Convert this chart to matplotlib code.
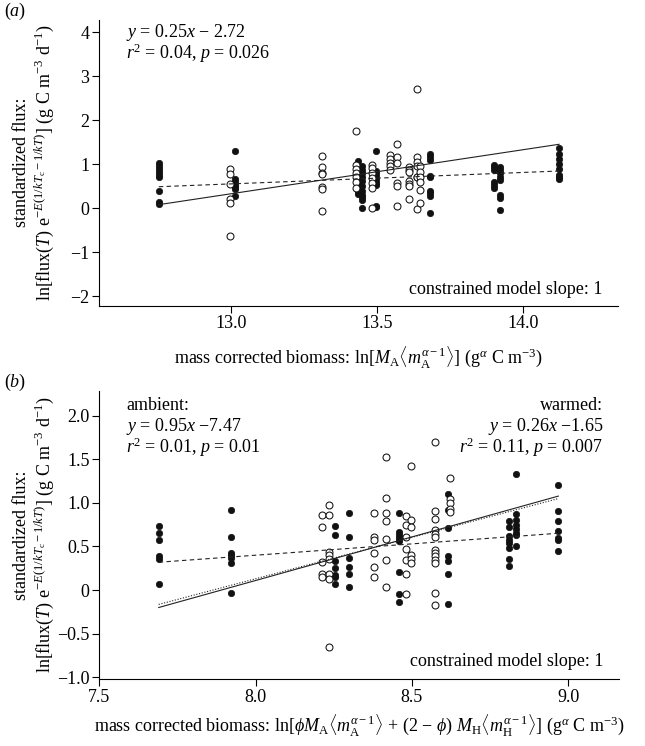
import matplotlib
matplotlib.use('Agg')
import matplotlib.pyplot as plt
import matplotlib.transforms as mtransforms
import numpy as np

plt.rcParams['font.family'] = ['Liberation Serif', 'DejaVu Serif']
plt.rcParams['mathtext.fontset'] = 'custom'
plt.rcParams['mathtext.rm'] = 'Liberation Serif'
plt.rcParams['mathtext.it'] = 'Liberation Serif:italic'
plt.rcParams['mathtext.bf'] = 'Liberation Serif:bold'
plt.rcParams['axes.unicode_minus'] = True

MINUS = '\u2212'

# ---------------- data: panel (a) ----------------
a_filled_x = [12.752, 13.012, 13.435, 13.450, 13.498, 13.680, 13.900, 13.921, 14.124]
a_filled_y = [
    [1.03, 0.95, 0.89, 0.83, 0.76, 0.70, 0.39, 0.14, 0.10],
    [1.31, 0.66, 0.60, 0.54, 0.48, 0.43, 0.28],
    [1.07, 0.95, 0.84, 0.76, 0.68, 0.60, 0.45, 0.38, 0.32],
    [0.95, 0.88, 0.80, 0.72, 0.62, 0.50, 0.40, 0.31, 0.25, 0.19, 0.00],
    [1.31, 0.85, 0.79, 0.72, 0.64, 0.57, 0.52, 0.05, 0.02],
    [1.24, 1.17, 1.10, 0.74, 0.71, 0.39, 0.34, 0.29, -0.11],
    [0.99, 0.94, 0.88, 0.59, 0.52, 0.46],
    [0.94, 0.87, 0.80, 0.72, 0.64, 0.31, 0.24, -0.04],
    [1.37, 1.24, 1.11, 1.00, 0.90, 0.75, 0.72, 0.66],
]
a_open_x = [12.997, 13.310, 13.428, 13.482, 13.543, 13.570, 13.609, 13.636, 13.647]
a_open_y = [
    [0.89, 0.78, 0.56, 0.20, 0.12, -0.64],
    [1.19, 0.93, 0.81, 0.77, 0.49, 0.43, -0.07],
    [1.75, 0.98, 0.90, 0.80, 0.70, 0.60, 0.46],
    [0.98, 0.91, 0.80, 0.68, 0.57, 0.45, 0.01],
    [1.21, 1.12, 1.03, 0.95, 0.88],
    [1.45, 1.16, 1.04, 0.58, 0.51, 0.05],
    [0.93, 0.88, 0.83, 0.61, 0.55, 0.51, 0.20],
    [2.72, 1.17, 1.05, 0.95, 0.72, 0.70, -0.02],
    [0.96, 0.83, 0.70, 0.60, 0.41, 0.11],
]
a_line_range = [12.752, 14.124]
a_solid = (1.0, -12.67)      # constrained slope 1
a_dashed = (0.26, -2.826)    # fitted
a_xticks = [13.0, 13.5, 14.0]
a_xticklabels = ['13.0', '13.5', '14.0']
a_yticks = [-2, -1, 0, 1, 2, 3, 4]
a_yticklabels = [MINUS + '2', MINUS + '1', '0', '1', '2', '3', '4']

# ---------------- data: panel (b) ----------------
b_filled_x = [7.690, 7.920, 8.255, 8.299, 8.460, 8.615, 8.810, 8.833, 8.967]
b_filled_y = [
    [0.74, 0.66, 0.58, 0.39, 0.36, 0.07],
    [0.92, 0.61, 0.43, 0.40, 0.37, 0.31, -0.03],
    [0.74, 0.63, 0.33, 0.25, 0.17, 0.15, 0.07],
    [0.88, 0.61, 0.37, 0.27, 0.18, 0.03],
    [0.88, 0.67, 0.63, 0.60, 0.56, 0.21, -0.05, -0.14],
    [1.10, 0.92, 0.71, 0.39, 0.33, 0.18, -0.16],
    [0.79, 0.72, 0.62, 0.58, 0.54, 0.48, 0.36, 0.28],
    [1.33, 0.87, 0.80, 0.75, 0.70, 0.66, 0.63, 0.50],
    [1.21, 0.91, 0.79, 0.68, 0.60, 0.57, 0.45],
]
b_open_x = [8.211, 8.235, 8.377, 8.418, 8.481, 8.496, 8.575, 8.622]
b_open_y = [
    [0.86, 0.72, 0.32, 0.18, 0.15],
    [0.98, 0.86, 0.44, 0.40, 0.36, 0.19, 0.13, -0.65],
    [0.88, 0.61, 0.57, 0.42, 0.26, 0.15],
    [1.53, 1.06, 0.88, 0.79, 0.59, 0.35, 0.03],
    [0.85, 0.75, 0.61, 0.47, 0.35, 0.18, -0.04],
    [1.42, 0.80, 0.72, 0.40, 0.36, 0.31],
    [1.70, 0.91, 0.81, 0.69, 0.64, 0.61, 0.46, 0.42, 0.39, 0.35, 0.31, -0.03, -0.17],
    [1.29, 1.04, 1.00, 0.93, 0.90],
]
b_line_range = [7.690, 8.968]
b_solid = (1.0, -7.89)       # constrained slope 1
b_dotted = (0.95, -7.47)     # ambient
b_dashed = (0.26, -1.68)     # warmed
b_xticks = [7.5, 8.0, 8.5, 9.0]
b_xticklabels = ['7.5', '8.0', '8.5', '9.0']
b_yticks = [-1.0, -0.5, 0, 0.5, 1.0, 1.5, 2.0]
b_yticklabels = [MINUS + '1.0', MINUS + '0.5', '0', '0.5', '1.0', '1.5', '2.0']

# ---------------- figure ----------------
W, H = 645, 746
fig = plt.figure(figsize=(W / 100, H / 100), dpi=100)
FS = 13
RIGHT = 618


def px_axes(l, t, r, b):
    return fig.add_axes([l / W, 1 - b / H, (r - l) / W, (b - t) / H])


def expand(xs, ys):
    X, Y = [], []
    for x, col in zip(xs, ys):
        X += [x] * len(col)
        Y += list(col)
    return X, Y


def style(ax):
    for s in ['top', 'right']:
        ax.spines[s].set_visible(False)
    for s in ['left', 'bottom']:
        ax.spines[s].set_linewidth(0.8)
    ax.tick_params(direction='out', length=5, width=0.8, labelsize=FS, pad=2)


def draw_points(ax, fx, fy, ox, oy):
    X, Y = expand(fx, fy)
    ax.plot(X, Y, 'o', ms=4.6, mfc='#111111', mec='#111111', mew=0.5, zorder=2, clip_on=False)
    X, Y = expand(ox, oy)
    ax.plot(X, Y, 'o', ms=5.0, mfc='white', mec='#111111', mew=0.75, zorder=2, clip_on=False)


def draw_line(ax, rng, coef, ls):
    xs = np.array(rng)
    ax.plot(xs, coef[0] * xs + coef[1], color='#222222', lw=0.8, ls=ls, zorder=3)


def ylabels(ax):
    tr = mtransforms.blended_transform_factory(fig.dpi_scale_trans, ax.transAxes)
    ax.text(22 / 100, 0.5, 'standardized flux:', transform=tr, rotation=90,
            ha='center', va='center', fontsize=FS)
    ax.text(44 / 100, 0.5,
            r'ln[flux($T$) e$^{-E(1/kT_{\rm c}-1/kT)}$] (g C m$^{-3}$ d$^{-1}$)',
            transform=tr, rotation=90, ha='center', va='center', fontsize=FS)


# ---- panel (a)
ax1 = px_axes(99, 19.5, RIGHT, 305.5)
style(ax1)
ax1.set_xlim(12.547, 14.326)
ax1.set_ylim(-2.21, 4.29)
ax1.set_xticks(a_xticks)
ax1.set_xticklabels(a_xticklabels)
ax1.set_yticks(a_yticks)
ax1.set_yticklabels(a_yticklabels)
draw_points(ax1, a_filled_x, a_filled_y, a_open_x, a_open_y)
draw_line(ax1, a_line_range, a_solid, '-')
draw_line(ax1, a_line_range, a_dashed, (0, (4, 3)))
ax1.text(0.052, 0.955, '$y$ = 0.25$x$ ' + MINUS + ' 2.72',
         transform=ax1.transAxes, fontsize=FS, va='center', ha='left')
ax1.text(0.052, 0.882, r'$r^2$ = 0.04, $p$ = 0.026', transform=ax1.transAxes,
         fontsize=FS, va='center', ha='left')
ax1.text(0.971, 0.056, 'constrained model slope: 1', transform=ax1.transAxes,
         fontsize=FS, va='center', ha='right')
ax1.set_xlabel(r'mass corrected biomass: ln[$M_{\rm A}\langle m_{\rm A}^{\alpha-1}\rangle$] (g$^{\alpha}$ C m$^{-3}$)',
               fontsize=FS, labelpad=9)
ylabels(ax1)
fig.text(15 / W, 1 - 11 / H, r'($a$)', fontsize=FS, ha='center', va='center')

# ---- panel (b)
ax2 = px_axes(99.3, 390.7, RIGHT + 1, 679)
style(ax2)
ax2.set_xlim(7.5, 9.162)
ax2.set_ylim(-1.02, 2.287)
ax2.set_xticks(b_xticks)
ax2.set_xticklabels(b_xticklabels)
ax2.set_yticks(b_yticks)
ax2.set_yticklabels(b_yticklabels)
draw_points(ax2, b_filled_x, b_filled_y, b_open_x, b_open_y)
draw_line(ax2, b_line_range, b_solid, '-')
draw_line(ax2, b_line_range, b_dotted, (0, (1, 1.5)))
draw_line(ax2, b_line_range, b_dashed, (0, (4, 3)))
ax2.text(0.052, 0.948, 'ambient:', transform=ax2.transAxes, fontsize=FS, va='center', ha='left')
ax2.text(0.052, 0.876, '$y$ = 0.95$x$ ' + MINUS + '7.47', transform=ax2.transAxes, fontsize=FS, va='center', ha='left')
ax2.text(0.052, 0.803, r'$r^2$ = 0.01, $p$ = 0.01', transform=ax2.transAxes, fontsize=FS, va='center', ha='left')
ax2.text(0.970, 0.948, 'warmed:', transform=ax2.transAxes, fontsize=FS, va='center', ha='right')
ax2.text(0.970, 0.876, '$y$ = 0.26$x$ ' + MINUS + '1.65', transform=ax2.transAxes, fontsize=FS, va='center', ha='right')
ax2.text(0.970, 0.803, r'$r^2$ = 0.11, $p$ = 0.007', transform=ax2.transAxes, fontsize=FS, va='center', ha='right')
ax2.text(0.970, 0.062, 'constrained model slope: 1', transform=ax2.transAxes,
         fontsize=FS, va='center', ha='right')
ax2.set_xlabel(r'mass corrected biomass: ln[$\phi M_{\rm A}\langle m_{\rm A}^{\alpha-1}\rangle$ + (2 ' + MINUS
               + r' $\phi$) $M_{\rm H}\langle m_{\rm H}^{\alpha-1}\rangle$] (g$^{\alpha}$ C m$^{-3}$)',
               fontsize=FS, labelpad=5)
ylabels(ax2)
fig.text(15 / W, 1 - 382 / H, r'($b$)', fontsize=FS, ha='center', va='center')

fig.savefig('out.png', dpi=100)
